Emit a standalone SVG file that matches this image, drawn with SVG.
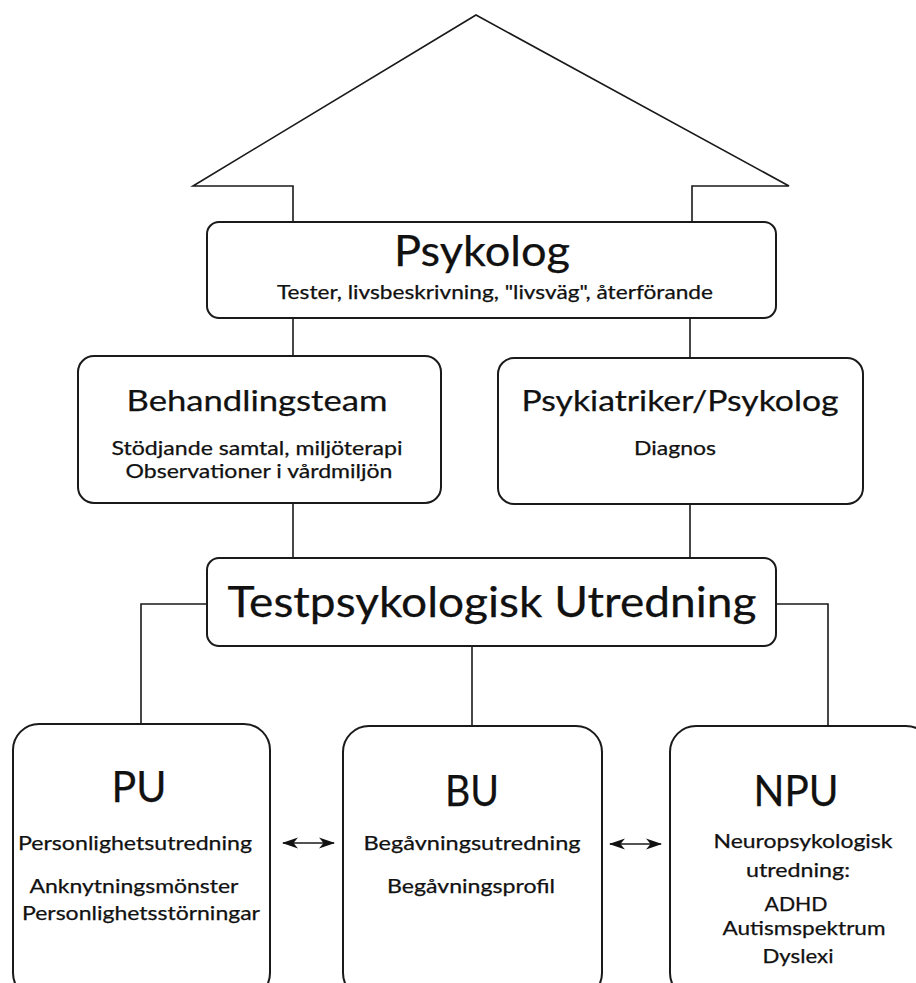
<svg xmlns="http://www.w3.org/2000/svg" width="916" height="983" viewBox="0 0 916 983">
<defs>
<style>
.box{fill:#fff;stroke:#1a1a1a;stroke-width:2}
.ln{fill:none;stroke:#1a1a1a;stroke-width:1.6}
text{font-family:Lato,"Open Sans",sans-serif;fill:#111;text-anchor:middle;stroke:#111;stroke-width:0.25}
.h1{font-size:42px}
.h2{font-size:29px}
.s{font-size:19px}
</style>
<marker id="ah" viewBox="0 0 16 12" markerWidth="16" markerHeight="12" refX="15" refY="6" orient="auto-start-reverse" markerUnits="userSpaceOnUse">
<path d="M16,6 L0,0.5 L4.5,6 L0,11.5 Z" fill="#111"/>
</marker>
</defs>
<rect width="916" height="983" fill="#fff"/>

<g id="roof">
<polyline class="ln" points="293,222 293,186 193,186 476,15 789,186 692,186 692,222"/>
</g>

<g id="connectors">
<line class="ln" x1="283" y1="843" x2="334" y2="843" stroke-width="1.5" marker-start="url(#ah)" marker-end="url(#ah)"/>
<line class="ln" x1="610" y1="844" x2="661" y2="844" stroke-width="1.5" marker-start="url(#ah)" marker-end="url(#ah)"/>
<line class="ln" x1="293" y1="318" x2="293" y2="357"/>
<line class="ln" x1="690" y1="318" x2="690" y2="358"/>
<line class="ln" x1="293" y1="503" x2="293" y2="558"/>
<line class="ln" x1="690" y1="504" x2="690" y2="558"/>
<polyline class="ln" points="207,604 141,604 141,724"/>
<polyline class="ln" points="776,604 828,604 828,726"/>
<line class="ln" x1="472" y1="646" x2="472" y2="726"/>
</g>

<g id="psykolog">
<rect class="box" x="207" y="222" width="569" height="96" rx="12"/>
<text class="h1" x="482" y="266" textLength="176" lengthAdjust="spacingAndGlyphs">Psykolog</text>
<text class="s" x="495" y="299" textLength="436" lengthAdjust="spacingAndGlyphs">Tester, livsbeskrivning, "livsväg", återförande</text>
</g>

<g id="behandlingsteam">
<rect class="box" x="78" y="356" width="363" height="147" rx="16"/>
<text class="h2" x="257" y="411" textLength="261" lengthAdjust="spacingAndGlyphs">Behandlingsteam</text>
<text class="s" x="257" y="455" textLength="291" lengthAdjust="spacingAndGlyphs">Stödjande samtal, miljöterapi</text>
<text class="s" x="259" y="478" textLength="267" lengthAdjust="spacingAndGlyphs">Observationer i vårdmiljön</text>
</g>

<g id="psykiatriker">
<rect class="box" x="498" y="358" width="365" height="146" rx="16"/>
<text class="h2" x="680" y="411" textLength="317" lengthAdjust="spacingAndGlyphs">Psykiatriker/Psykolog</text>
<text class="s" x="675" y="455" textLength="82" lengthAdjust="spacingAndGlyphs">Diagnos</text>
</g>

<g id="testpsykologisk">
<rect class="box" x="207" y="558" width="569" height="88" rx="12"/>
<text class="h1" x="492" y="617" font-size="44" textLength="529" lengthAdjust="spacingAndGlyphs">Testpsykologisk Utredning</text>
</g>

<g id="pu">
<rect class="box" x="13" y="724" width="257" height="275" rx="26"/>
<text class="h1" x="139" y="802" textLength="55" lengthAdjust="spacingAndGlyphs">PU</text>
<text class="s" x="135" y="850" textLength="234" lengthAdjust="spacingAndGlyphs">Personlighetsutredning</text>
<text class="s" x="134" y="893" textLength="209" lengthAdjust="spacingAndGlyphs">Anknytningsmönster</text>
<text class="s" x="141" y="920" textLength="238" lengthAdjust="spacingAndGlyphs">Personlighetsstörningar</text>
</g>

<g id="bu">
<rect class="box" x="343" y="726" width="259" height="273" rx="26"/>
<text class="h1" x="472" y="806" textLength="54" lengthAdjust="spacingAndGlyphs">BU</text>
<text class="s" x="472" y="850" textLength="217" lengthAdjust="spacingAndGlyphs">Begåvningsutredning</text>
<text class="s" x="471" y="893" textLength="168" lengthAdjust="spacingAndGlyphs">Begåvningsprofil</text>
</g>

<g id="npu">
<rect class="box" x="670" y="726" width="262" height="273" rx="26"/>
<text class="h1" x="796" y="806" textLength="85" lengthAdjust="spacingAndGlyphs">NPU</text>
<text class="s" x="803" y="848" textLength="179" lengthAdjust="spacingAndGlyphs">Neuropsykologisk</text>
<text class="s" x="798" y="877" textLength="104" lengthAdjust="spacingAndGlyphs">utredning:</text>
<text class="s" x="796" y="911" textLength="63" lengthAdjust="spacingAndGlyphs">ADHD</text>
<text class="s" x="804" y="935" textLength="163" lengthAdjust="spacingAndGlyphs">Autismspektrum</text>
<text class="s" x="798" y="963" textLength="71" lengthAdjust="spacingAndGlyphs">Dyslexi</text>
</g>
</svg>
